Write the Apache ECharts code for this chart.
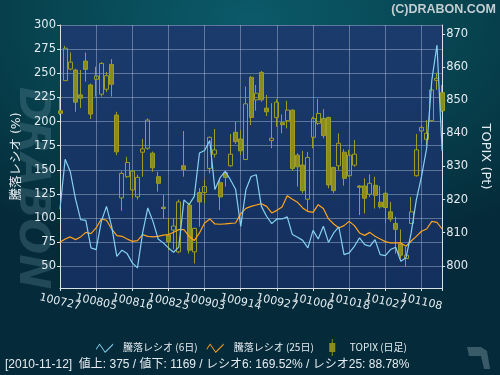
<!DOCTYPE html>
<html><head><meta charset="utf-8">
<script src="https://cdn.jsdelivr.net/npm/echarts@6/dist/echarts.min.js"></script>
<style>
html,body{margin:0;padding:0;background:#052c3a;}
#c{width:500px;height:375px;background:radial-gradient(ellipse 80% 65% at 50% 5%, #0b5a6a 0%, #07434f 55%, #052b3a 100%);}
</style></head><body><div id="c"></div>
<script>
const dates = ['100727','100728','100729','100730','100802','100803','100804','100805','100806','100809','100810','100811','100812','100813','100816','100817','100818','100819','100820','100823','100824','100825','100826','100827','100830','100831','100901','100902','100903','100906','100907','100908','100909','100910','100913','100914','100915','100916','100917','100921','100922','100924','100927','100928','100929','100930','101001','101004','101005','101006','101007','101008','101012','101013','101014','101015','101018','101019','101020','101021','101022','101025','101026','101027','101028','101029','101101','101102','101104','101105','101108','101109','101110','101111','101112'];
const ratio6 = [109.5,161,148,120,98.5,97.8,69.2,67.5,96.7,112.2,91.5,60.5,66.8,63.3,53.7,48.5,84.7,110.6,96.7,78.5,74.4,69.2,64.7,70,119,114,122.5,167.4,170,180.4,129.6,141.9,148.4,139.8,130,91.5,129.5,143.2,145,112.2,102,94.3,99.2,99.2,101.3,83,80.2,77,69.2,87.4,78.5,91.6,75,84.7,90.9,62.3,64,70.9,79.6,72.6,70.9,77.8,62.3,61.3,67.5,69.9,55.4,58.9,84.7,119,143,172.5,243,279.3,169.52];
const ratio25 = [75,78.5,80.6,77.8,80.6,85.3,84,89.9,99.2,97.8,88.8,81.9,81.2,78.5,76,76.8,83,81.2,80.6,81.2,82.5,83,85.5,88.1,88.1,81.2,76.8,84.7,95,99.2,94,93.7,94,94.7,95,104.7,110.1,112.2,113.6,115,112.2,105.4,108.1,111.6,123.3,119.5,116.4,110.6,107,106,114,110.1,99.2,94,89.9,92.3,96.7,92.3,84.7,82.2,85.3,81.2,78.5,75.7,74.4,74.4,74.4,70.9,76.4,81.2,86.4,88.8,96.7,95.7,88.78];
const topixOpen  = [846.8,855.9,859.4,859.1,851.6,861.8,854.6,856.3,851.8,853.3,860.8,845.5,820.5,826.9,822.9,820.8,834.3,835.5,834.0,826.9,817.7,809.3,810.8,804.2,830.2,818.3,804.2,822.1,822.1,829.4,833.7,825.1,828.1,830.2,840.3,838.3,832.1,856.9,850.1,858.4,847.6,837.8,844.8,843.2,843.8,847.0,833.4,830.4,820.1,838.8,843.0,844.5,844.8,829.7,830.2,834.3,827.2,830.4,824.1,824.1,821.6,824.3,819.2,821.9,816.3,812.8,806.6,802.2,812.8,827.2,840.7,838.2,843.8,856.0,852.3];
const topixClose = [846.0,865.7,861.5,849.4,850.6,859.3,845.8,857.3,861.1,857.4,854.8,834.4,827.9,831.2,828.6,826.7,835.3,844.0,829.6,824.9,817.3,807.3,812.0,819.3,829.1,804.7,811.3,819.3,823.9,838.8,835.0,820.8,826.7,833.7,837.5,834.7,848.9,844.8,852.1,850.1,846.5,838.5,849.4,842.6,847.0,829.4,829.9,822.7,832.7,844.5,846.0,839.3,824.4,822.7,837.0,826.4,833.4,833.7,823.7,820.4,824.9,821.3,817.8,817.6,814.1,811.0,803.2,803.2,816.3,835.0,841.8,840.0,853.1,856.6,846.8];
const topixLow   = [845.5,855.9,859.0,846.5,847.6,855.6,844.3,851.1,851.1,852.5,851.1,833.4,816.6,826.5,820.5,820.0,826.9,835.0,828.4,822.4,814.3,804.7,805.0,803.8,826.9,803.7,800.7,811.8,818.9,827.9,832.7,816.8,823.9,829.9,836.8,833.4,831.9,842.5,846.8,849.5,845.2,835.5,842.0,840.0,841.5,828.7,823.9,821.9,816.6,835.5,842.5,838.5,823.4,821.9,828.9,824.2,826.9,829.9,815.3,815.8,820.8,817.3,817.3,812.8,813.3,803.7,802.2,799.7,812.6,826.9,837.0,836.5,843.5,853.1,846.5];
const topixHigh  = [850.7,866.4,864.4,859.5,859.1,864.4,855.0,860.1,861.5,858.5,862.4,846.5,828.5,832.9,829.0,827.5,838.3,844.5,834.5,828.4,821.4,814.4,814.4,820.0,840.7,819.0,811.5,823.5,825.9,839.0,841.3,826.5,828.9,839.8,843.5,841.0,854.1,857.3,854.6,858.8,851.6,849.1,850.3,845.7,849.8,847.2,834.0,834.7,834.4,845.0,850.4,847.3,845.0,829.9,840.0,835.2,835.0,838.0,824.4,826.4,827.6,826.9,824.1,822.4,819.3,814.8,811.0,805.7,820.8,839.8,842.5,844.0,854.3,858.3,854.6];
const leftTicks = {min: 27.7, max: 300, step: 25};
const rightTicks = {min: 793.3, max: 872.7, step: 10};
const labelEvery = 7;
const statusText = '[2010-11-12]  値上: 375 / 値下: 1169 / レシオ6: 169.52% / レシオ25: 88.78%';

const candleData = dates.map((d, i) => [topixOpen[i], topixClose[i], topixLow[i], topixHigh[i]]);
const FONT = "'DejaVu Sans','Noto Sans CJK JP',sans-serif";
const LBL = '#e4ebf0';
function stepFmt(step) {
  return function (v) {
    const k = v / step;
    return Math.abs(k - Math.round(k)) < 1e-6 ? String(Math.round(v)) : '';
  };
}
const zig = 'path://M0,0L0.01,0L0.01,0.01Z M25,17L24.99,17L24.99,16.99Z M3,9.5L6.5,4.5L12,12.6L20,4.6L20,6L12,14L6.5,6L3,10.9Z';
const candleIcon = 'path://M0,0L0.01,0L0.01,0.01Z M25,17L24.99,17L24.99,16.99Z M12,0L13,0L13,4L15.5,4L15.5,13L13,13L13,17L12,17L12,13L9.5,13L9.5,4L12,4Z';

const chart = echarts.init(document.getElementById('c'), null, {renderer: 'canvas'});
chart.setOption({
  animation: false,
  backgroundColor: 'transparent',
  grid: {
    left: 60, top: 25, width: 383, height: 263,
    show: true, borderWidth: 0,
    backgroundColor: {type: 'linear', x: 0, y: 0, x2: 0, y2: 1,
      colorStops: [{offset: 0, color: '#1a3b6c'}, {offset: 1, color: '#132f5e'}]}
  },
  legend: {
    left: 'center', top: 334, itemWidth: 25, itemHeight: 17, itemGap: 6,
    textStyle: {color: LBL, fontSize: 10, fontFamily: "'Noto Sans CJK JP',sans-serif"},
    data: [
      {name: '騰落レシオ (6日)', icon: zig, itemStyle: {color: '#86d0f0', borderWidth: 0}},
      {name: '騰落レシオ (25日)', icon: zig, itemStyle: {color: '#ffa31a', borderWidth: 0}},
      {name: 'TOPIX (日足)', icon: candleIcon, itemStyle: {color: '#8c8c1c', borderWidth: 0}}
    ]
  },
  xAxis: {
    type: 'category', data: dates, boundaryGap: false,
    axisLine: {lineStyle: {color: '#d8e0e8', width: 1}},
    axisTick: {interval: labelEvery - 1, length: 3, lineStyle: {color: '#d8e0e8'}},
    axisLabel: {interval: 0, rotate: -13, align: 'center', verticalAlign: 'middle', margin: 14,
      hideOverlap: false,
      formatter: (v, idx) => (idx % labelEvery === 0 ? v : ''),
      color: LBL, fontSize: 11, fontFamily: FONT},
    splitLine: {show: true, interval: labelEvery - 1, lineStyle: {color: 'rgba(200,212,232,0.4)', width: 1}}
  },
  yAxis: [
    {
      type: 'value', position: 'left', min: leftTicks.min, max: leftTicks.max,
      minInterval: leftTicks.step, maxInterval: leftTicks.step, splitNumber: 11,
      name: '騰落レシオ (%)', nameLocation: 'middle', nameGap: 32, nameRotate: 90,
      nameTextStyle: {color: LBL, fontSize: 12.5, fontFamily: FONT},
      axisLine: {show: true, lineStyle: {color: '#d8e0e8'}},
      axisTick: {show: true, length: 3, lineStyle: {color: '#d8e0e8'}},
      axisLabel: {color: LBL, fontSize: 11.5, fontFamily: FONT, margin: 4, showMinLabel: false, formatter: stepFmt(leftTicks.step)},
      splitLine: {show: true, lineStyle: {color: 'rgba(200,212,232,0.4)', width: 1}}
    },
    {
      type: 'value', position: 'right', min: rightTicks.min, max: rightTicks.max,
      minInterval: rightTicks.step, maxInterval: rightTicks.step, splitNumber: 8,
      name: 'TOPIX (Pt)', nameLocation: 'middle', nameGap: 31, nameRotate: -90,
      nameTextStyle: {color: LBL, fontSize: 13, fontFamily: FONT},
      axisLine: {show: true, lineStyle: {color: '#d8e0e8'}},
      axisTick: {show: true, length: 3, lineStyle: {color: '#d8e0e8'}},
      axisLabel: {color: LBL, fontSize: 11.5, fontFamily: FONT, margin: 4, showMinLabel: false, showMaxLabel: false, formatter: stepFmt(rightTicks.step)},
      splitLine: {show: false}
    }
  ],
  series: [
    {
      name: 'TOPIX (日足)', type: 'candlestick', yAxisIndex: 1, data: candleData, barWidth: 4.5,
      itemStyle: {color: 'rgba(0,0,0,0)', color0: '#8c8c1c', borderColor: '#9c9c26', borderColor0: '#9c9c26', borderWidth: 1}
    },
    {
      name: '騰落レシオ (25日)', type: 'line', yAxisIndex: 0, data: ratio25, symbol: 'none',
      lineStyle: {color: '#ffa31a', width: 1.2}, itemStyle: {color: '#ffa31a'}
    },
    {
      name: '騰落レシオ (6日)', type: 'line', yAxisIndex: 0, data: ratio6, symbol: 'none',
      lineStyle: {color: '#86d0f0', width: 1.2}, itemStyle: {color: '#86d0f0'}
    }
  ],
  graphic: [
    {type: 'text', right: 4, top: 3, style: {text: '(C)DRABON.COM', font: "bold 12.5px 'Liberation Sans', sans-serif", fill: '#c3cdd2'}},
    {type: 'text', left: 5, top: 359, style: {text: statusText, font: "12px 'Liberation Sans','Noto Sans CJK JP',sans-serif", fill: '#e4ebf0'}},
    {type: 'text', x: 31, y: 188, rotation: -Math.PI / 2, z: -10, silent: true,
      style: {text: 'DRABON', font: "italic 900 42px 'DejaVu Sans', sans-serif", fill: 'rgba(110,150,165,0.28)', align: 'center', verticalAlign: 'middle'}},
    {type: 'polygon', z: -10, silent: true,
      shape: {points: [[467, 347], [481, 347], [487, 351], [490, 369], [484, 369], [481, 356], [469, 356]]},
      style: {fill: 'rgba(100,130,140,0.55)'}}
  ]
});
</script></body></html>
